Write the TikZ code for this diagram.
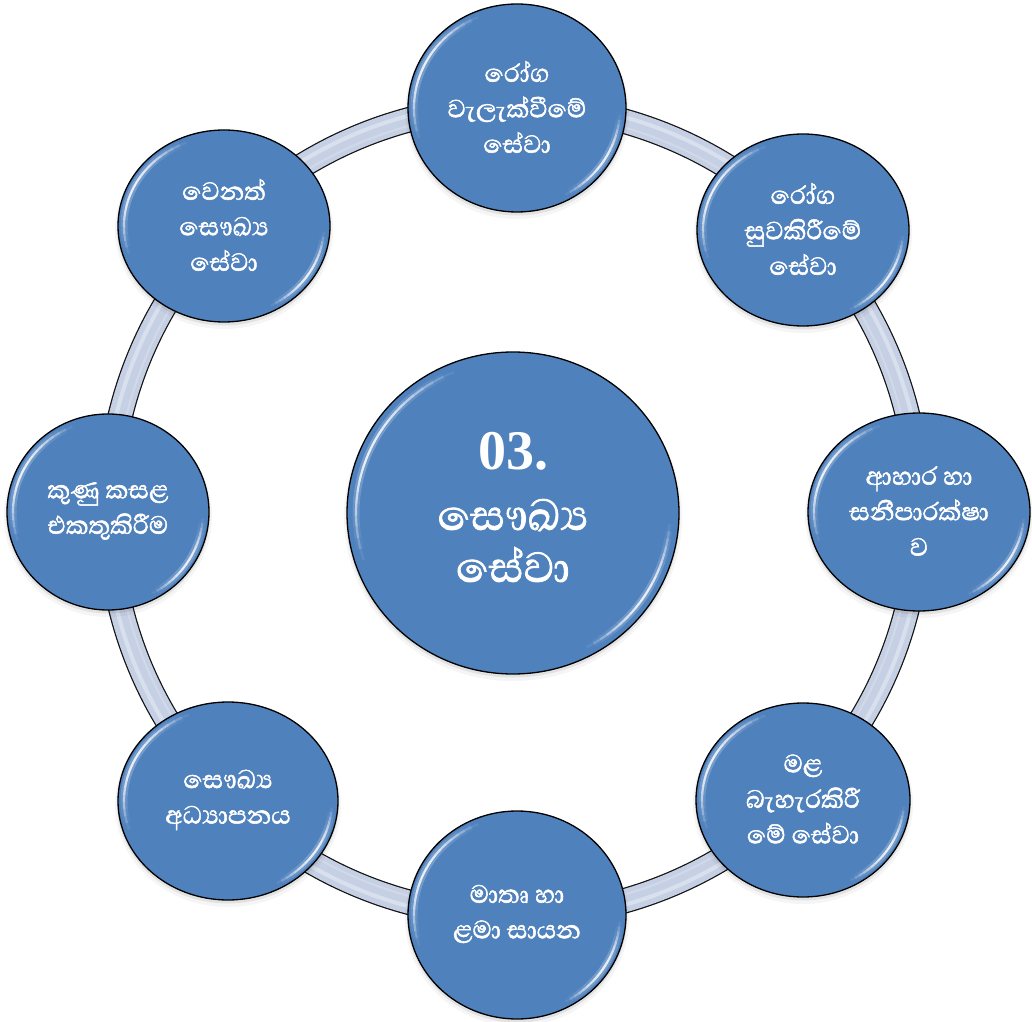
\documentclass[tikz,border=0pt]{standalone}
\usepackage{fontspec}
\newfontfamily\sinhfont[Script=Sinhala, FakeBold=1.6]{Abhaya Libre}
\newfontfamily\numfont{Liberation Serif}
\usetikzlibrary{shapes.geometric,calc}
\definecolor{ballblue}{RGB}{79,129,189}
\definecolor{ringfill}{RGB}{198,208,228}
\definecolor{ringedge}{RGB}{20,20,20}
\tikzset{
  ball/.style={ellipse, draw=black, line width=1.3pt, fill=ballblue, inner sep=0pt, outer sep=0pt},
  lbl/.style={text=white, align=center, inner sep=0pt, font=\sinhfont\fontsize{32}{35.5}\selectfont},
  clbl/.style={text=white, inner sep=0pt, anchor=base},
  shade1/.style={fill=black, opacity=.08},
  shade2/.style={fill=black, opacity=.04}
}
\newcommand\gleam[5]{%
  \foreach \k in {0,...,19}{%
    \pgfmathsetmacro\aa{#4+(#5-#4)*\k/20}%
    \pgfmathsetmacro\bb{#4+(#5-#4)*(\k+1)/20}%
    \pgfmathsetmacro\op{sin(180*(\k+0.5)/20)}%
    \draw[white, opacity=0.22*\op, line width=7pt] ($(#1)+(\aa:{#2} and {#3})$) arc[start angle=\aa, end angle=\bb, x radius=#2, y radius=#3];
    \draw[white, opacity=0.85*\op, line width=2.2pt] ($(#1)+(\aa:{#2} and {#3})$) arc[start angle=\aa, end angle=\bb, x radius=#2, y radius=#3];
  }}
\newcommand\sat[6]{%
  \fill[shade2] (#2,#3-4) ellipse [x radius=#4+3, y radius=#5+3];
  \fill[shade1] (#2,#3-2.5) ellipse [x radius=#4+1, y radius=#5+1];
  \node[ball, minimum width=2*#4 pt, minimum height=2*#5 pt] (#1) at (#2,#3) {};
  \gleam{#1}{#4-6}{#5-6}{112}{198}
  \gleam{#1}{#4-6}{#5-6}{-62}{-4}
  \node[lbl] (#1-t) at ($(#1)+(0,1)$) {#6};
}
\begin{document}
\begin{tikzpicture}[x=1pt,y=1pt]
\useasboundingbox (0,0) rectangle (1032,1021);
% ring
\coordinate (ringc) at (514,510);
\draw[ringedge, line width=25.5pt] (ringc) circle[radius=405];
\draw[ringfill, line width=23pt] (ringc) circle[radius=405];
\draw[white, opacity=.35, line width=4pt] (ringc) circle[radius=409];
\draw[white, opacity=.20, line width=2pt] (ringc) circle[radius=399];
% satellites
\sat{t}{517}{913}{109}{104}{රෝග\\වැලැක්වීමේ\\සේවා}
\sat{tr}{803}{791}{106}{96}{රෝග\\සුවකිරීමේ\\සේවා}
\sat{r}{919}{509}{111}{99}{ආහාර හා\\සනීපාරක්ෂා\\ව}
\sat{br}{803}{221}{107}{97}{මළ\\බැහැරකිරී\\මේ සේවා}
\sat{b}{517}{106}{109}{104}{මාතෘ හා\\ළමා සායන}
\sat{bl}{228}{220}{110}{99}{සෞඛ්^^^^200dය\\අධ්^^^^200dයාපනය}
\sat{l}{108}{509}{101}{98}{කුණු කසළ\\එකතුකිරීම}
\sat{tl}{224}{795}{106}{96}{වෙනත්\\සෞඛ්^^^^200dය\\සේවා}
% centre
\fill[shade2] (513,504) ellipse [x radius=169, y radius=164];
\fill[shade1] (513,505.5) ellipse [x radius=167, y radius=162];
\node[ball, minimum width=332pt, minimum height=322pt] (c) at (513,508) {};
\gleam{c}{157}{152}{112}{198}
\gleam{c}{157}{152}{-62}{-4}
\node[clbl, font=\numfont\bfseries\fontsize{56}{60}\selectfont] (c-t1) at (513,551) {03.};
\node[clbl, font=\sinhfont\fontsize{54}{60}\selectfont] (c-t2) at (513,491) {සෞඛ්^^^^200dය};
\node[clbl, font=\sinhfont\fontsize{54}{60}\selectfont] (c-t3) at (513,439) {සේවා};
\end{tikzpicture}
\end{document}
